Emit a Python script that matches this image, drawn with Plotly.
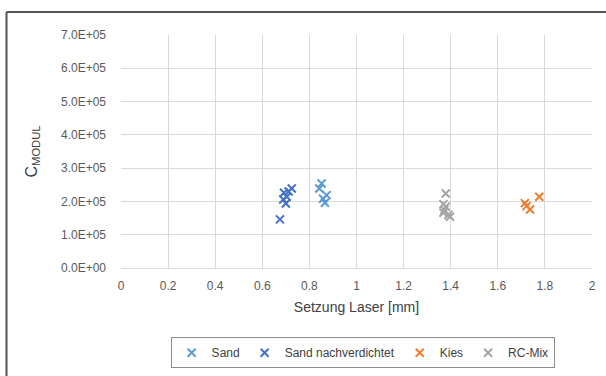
import plotly.graph_objects as go

# Setzung Laser [mm] and C_MODUL per material
sand_x = [0.852, 0.842, 0.873, 0.866, 0.858]
sand_y = [2.54e5, 2.39e5, 2.19e5, 1.96e5, 2.08e5]

sandnv_x = [0.675, 0.725, 0.692, 0.704, 0.689, 0.700, 0.712]
sandnv_y = [1.46e5, 2.39e5, 2.26e5, 2.14e5, 2.06e5, 1.94e5, 2.30e5]

kies_x = [1.715, 1.737, 1.776, 1.722]
kies_y = [1.95e5, 1.76e5, 2.14e5, 1.86e5]

rc_x = [1.379, 1.369, 1.379, 1.373, 1.369, 1.390, 1.397]
rc_y = [2.24e5, 1.92e5, 1.84e5, 1.74e5, 1.66e5, 1.59e5, 1.54e5]

y_ticks = [0, 1e5, 2e5, 3e5, 4e5, 5e5, 6e5, 7e5]
y_tick_text = ["0.0E+00", "1.0E+05", "2.0E+05", "3.0E+05",
               "4.0E+05", "5.0E+05", "6.0E+05", "7.0E+05"]
x_ticks = [0, 0.2, 0.4, 0.6, 0.8, 1, 1.2, 1.4, 1.6, 1.8, 2]
x_tick_text = ["0", "0.2", "0.4", "0.6", "0.8", "1", "1.2", "1.4", "1.6", "1.8", "2"]

series = [
    ("Sand", sand_x, sand_y, "#5B9BD5"),
    ("Sand nachverdichtet", sandnv_x, sandnv_y, "#4472C4"),
    ("Kies", kies_x, kies_y, "#ED7D31"),
    ("RC-Mix", rc_x, rc_y, "#A5A5A5"),
]

fig = go.Figure()
for name, xs, ys, color in series:
    fig.add_trace(go.Scatter(
        x=xs, y=ys, mode="markers", name=name,
        marker=dict(symbol="x-thin", size=8, color=color,
                    line=dict(color=color, width=2)),
    ))

W, H = 606, 376
ml, mr, mt, mb = 121, 14, 35, 108
pw, ph = W - ml - mr, H - mt - mb

font = "Liberation Sans, Arial, sans-serif"

fig.update_layout(
    width=W, height=H,
    margin=dict(l=ml, r=mr, t=mt, b=mb, autoexpand=False),
    paper_bgcolor="white", plot_bgcolor="white",
    font=dict(family=font, color="#595959", size=12),
    showlegend=True,
    legend=dict(
        orientation="h", x=0.513, xanchor="center", y=-0.297, yanchor="top",
        bordercolor="#8C8C8C", borderwidth=1, bgcolor="white",
        font=dict(size=12, color="#404040"),
        itemsizing="trace", tracegroupgap=0,
    ),
    xaxis=dict(
        range=[0, 2], tickvals=x_ticks, ticktext=x_tick_text,
        showgrid=True, gridcolor="#D9D9D9", gridwidth=1,
        zeroline=False, showline=True, linecolor="#D9D9D9", linewidth=1,
        ticks="", ticklabelstandoff=7, automargin=False,
        title=dict(text="Setzung Laser [mm]", font=dict(size=14, color="#404040"), standoff=9),
        tickfont=dict(size=12, color="#595959"),
    ),
    yaxis=dict(
        range=[0, 7e5], tickvals=y_ticks, ticktext=y_tick_text,
        showgrid=True, gridcolor="#D9D9D9", gridwidth=1,
        zeroline=False, showline=False, ticks="", ticklabelstandoff=14,
        automargin=False,
        title=dict(text="C<sub>MODUL</sub>", font=dict(size=16, color="#404040"), standoff=19),
        tickfont=dict(size=12, color="#595959"),
    ),
)

# outer frame around the figure (top and left edges)
fx0 = (6.5 - ml) / pw
fy1 = 1 + (mt - 12) / ph
fig.add_shape(type="line", xref="paper", yref="paper",
              x0=fx0, x1=1.2, y0=fy1, y1=fy1, line=dict(color="#555555", width=2))
fig.add_shape(type="line", xref="paper", yref="paper",
              x0=fx0, x1=fx0, y0=fy1, y1=-0.6, line=dict(color="#555555", width=2))

fig.write_html("out.html")
